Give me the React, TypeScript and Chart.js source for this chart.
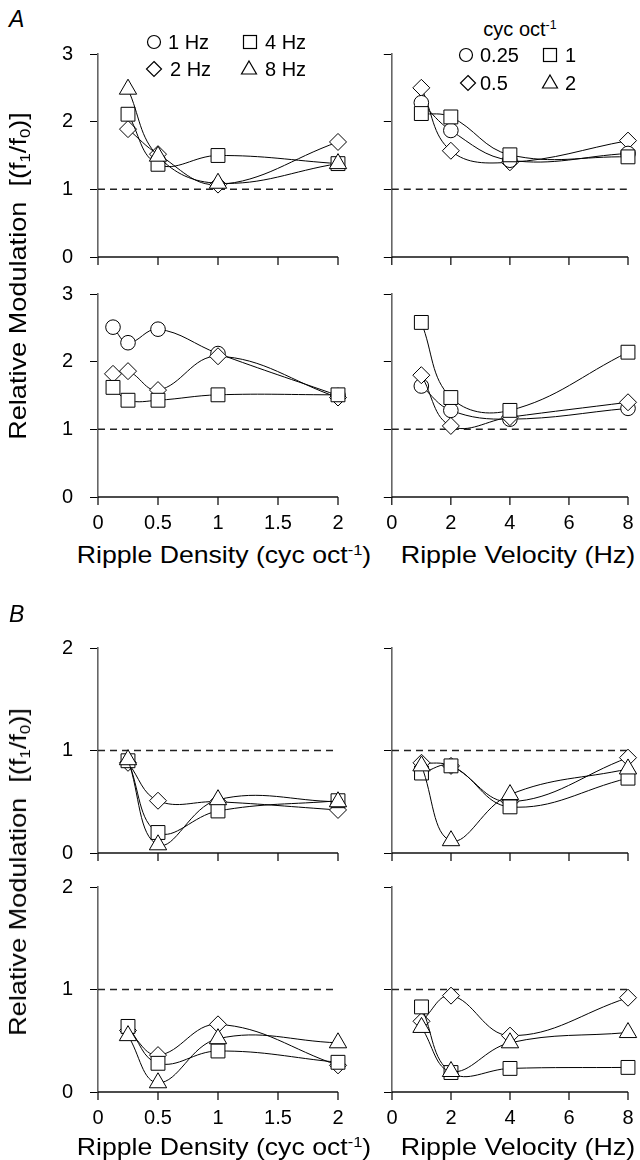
import React, { useEffect, useRef } from "react";
import { Chart, registerables } from "chart.js";

Chart.register(...registerables);

const FONT = "'Liberation Sans', Arial, Helvetica, sans-serif";
Chart.defaults.font.family = FONT;

// ---------- data ----------
const densityX = [0.25, 0.5, 1, 2];
const densityXFine = [0.125, 0.25, 0.5, 1, 2];
const velocityX = [1, 2, 4, 8];
const refLevel = 1;
const baseLevel = 0;

const densityTicks = [0, 0.5, 1, 1.5, 2];
const velocityTicks = [0, 2, 4, 6, 8];

// A, top-left (x = ripple density, series = velocity)
const aTL_2Hz = [1.89, 1.52, 1.07, 1.7];
const aTL_4Hz = [2.11, 1.37, 1.5, 1.38];
const aTL_8Hz = [2.48, 1.49, 1.09, 1.38];

// A, top-right (x = ripple velocity, series = density)
const aTR_025 = [2.28, 1.87, 1.43, 1.53];
const aTR_05 = [2.5, 1.57, 1.4, 1.72];
const aTR_1 = [2.12, 2.07, 1.51, 1.48];

// A, bottom-left
const aBL_1Hz = [2.51, 2.28, 2.48, 2.12, 1.5];
const aBL_2Hz = [1.82, 1.86, 1.58, 2.08, 1.47];
const aBL_4Hz = [1.62, 1.43, 1.43, 1.51, 1.51];

// A, bottom-right
const aBR_025 = [1.64, 1.28, 1.15, 1.31];
const aBR_05 = [1.8, 1.05, 1.18, 1.4];
const aBR_1 = [2.58, 1.47, 1.28, 2.14];

// B, top-left
const bTL_2Hz = [0.88, 0.51, 0.5, 0.42];
const bTL_4Hz = [0.9, 0.2, 0.41, 0.51];
const bTL_8Hz = [0.91, 0.08, 0.52, 0.5];

// B, top-right
const bTR_05 = [0.88, 0.85, 0.5, 0.93];
const bTR_1 = [0.78, 0.85, 0.45, 0.73];
const bTR_2 = [0.85, 0.12, 0.57, 0.82];

// B, bottom-left
const bBL_2Hz = [0.6, 0.36, 0.66, 0.26];
const bBL_4Hz = [0.64, 0.28, 0.4, 0.29];
const bBL_8Hz = [0.55, 0.09, 0.52, 0.48];

// B, bottom-right
const bBR_05 = [0.69, 0.94, 0.55, 0.92];
const bBR_1 = [0.83, 0.19, 0.23, 0.24];
const bBR_2 = [0.63, 0.2, 0.48, 0.58];

// ---------- styles ----------
const CIRCLE = { style: "circle", r: 7.3 };
const DIAMOND = { style: "rectRot", r: 8.5 };
const SQUARE = { style: "rect", r: 9.8 };
const TRIANGLE = { style: "triangle", r: 10 };

type Series = { x: number[]; y: number[]; style: string; r: number };

type PanelProps = {
  left: boolean;
  areaTop: number;
  areaBottom: number;
  showX: boolean;
  yMax: number;
  series: Series[];
};

const L_AREA_LEFT = 98;
const L_AREA_RIGHT = 338;
const R_AREA_LEFT = 389;
const R_AREA_RIGHT = 628;
const PAD_TOP = 12;
const PAD_RIGHT = 12;
const PAD_BOTTOM = 2;
const TICK_LEN = 8;

function Panel({ left, areaTop, areaBottom, showX, yMax, series }: PanelProps) {
  const ref = useRef<HTMLCanvasElement | null>(null);
  const yAxisW = left ? L_AREA_LEFT : TICK_LEN;
  const xAxisH = showX ? 40 : 10;
  const canvasLeft = left ? 0 : R_AREA_LEFT - TICK_LEN;
  const areaRight = left ? L_AREA_RIGHT : R_AREA_RIGHT;
  const width = areaRight + PAD_RIGHT - canvasLeft;
  const top = areaTop - PAD_TOP;
  const height = areaBottom - areaTop + PAD_TOP + xAxisH + PAD_BOTTOM;
  const xMax = left ? 2 : 8;
  const xTicks = left ? densityTicks : velocityTicks;

  useEffect(() => {
    const datasets: any[] = series.map((s) => ({
      data: s.x.map((x, i) => ({ x, y: s.y[i] })),
      borderColor: "#000",
      borderWidth: 1,
      backgroundColor: "#fff",
      pointStyle: s.style,
      pointRadius: s.r,
      pointBorderColor: "#000",
      pointBackgroundColor: "#fff",
      pointBorderWidth: 1,
      tension: 0.4,
      clip: false,
      fill: false,
    }));
    // dashed reference level
    datasets.push({
      data: [
        { x: 0, y: refLevel },
        { x: xMax, y: refLevel },
      ],
      borderColor: "#222",
      borderWidth: 1.5,
      borderDash: [7, 5],
      pointRadius: 0,
      tension: 0,
      clip: false,
      fill: false,
    });
    // horizontal axis line
    datasets.push({
      data: [
        { x: 0, y: baseLevel },
        { x: xMax, y: baseLevel },
      ],
      borderColor: "#111",
      borderWidth: 1.4,
      pointRadius: 0,
      tension: 0,
      clip: false,
      fill: false,
    });
    // downward tick marks on the horizontal axis
    datasets.push({
      data: xTicks.map((v) => ({ x: v, y: baseLevel })),
      showLine: false,
      pointStyle: "dash",
      rotation: 90,
      pointRadius: TICK_LEN,
      pointBorderColor: "#000",
      borderColor: "#000",
      pointBorderWidth: 1.2,
      clip: false,
    });

    const tickFont = { family: FONT, size: 20 };
    const chart = new Chart(ref.current as HTMLCanvasElement, {
      type: "line",
      data: { datasets },
      options: {
        animation: false,
        responsive: false,
        maintainAspectRatio: false,
        events: [],
        layout: { padding: { top: PAD_TOP, right: PAD_RIGHT, bottom: PAD_BOTTOM, left: 0 } },
        plugins: { legend: { display: false }, tooltip: { enabled: false }, title: { display: false } },
        scales: {
          x: {
            type: "linear",
            position: "bottom",
            min: 0,
            max: xMax,
            afterBuildTicks: (s: any) => {
              s.ticks = xTicks.map((v) => ({ value: v }));
            },
            ticks: {
              display: showX,
              font: tickFont,
              color: "#000",
              padding: 6,
              maxRotation: 0,
              autoSkip: false,
              callback: (v: any) => String(v),
            },
            grid: { display: false },
            border: { display: false },
            afterFit: (s: any) => {
              s.height = xAxisH;
              s.paddingLeft = 0;
              s.paddingRight = 0;
            },
          },
          y: {
            type: "linear",
            position: "left",
            min: 0,
            max: yMax,
            ticks: {
              stepSize: 1,
              font: tickFont,
              color: left ? "#000" : "rgba(0,0,0,0)",
              padding: 17,
              callback: (v: any) => (left ? String(v) : ""),
            },
            grid: { display: true, drawOnChartArea: false, drawTicks: true, tickLength: TICK_LEN, color: "#000", lineWidth: 1 },
            border: { display: true, color: "#666", width: 1.6 },
            afterFit: (s: any) => {
              s.width = yAxisW;
              s.paddingTop = 0;
              s.paddingBottom = 0;
            },
          },
        },
      } as any,
    });
    return () => chart.destroy();
  }, []);

  return (
    <canvas
      ref={ref}
      width={width}
      height={height}
      style={{ position: "absolute", left: canvasLeft, top, width, height }}
    />
  );
}

function Sym({ kind, x, y }: { kind: string; x: number; y: number }) {
  const s = 18;
  let shape: any = null;
  const common = { fill: "#fff", stroke: "#000", strokeWidth: 1.2 };
  if (kind === "circle") shape = <circle cx={9} cy={9} r={6.5} {...common} />;
  if (kind === "rect") shape = <rect x={2.5} y={2.5} width={13} height={13} {...common} />;
  if (kind === "rectRot") shape = <polygon points="9,1.5 16.5,9 9,16.5 1.5,9" {...common} />;
  if (kind === "triangle") shape = <polygon points="9,2 16.5,15 1.5,15" {...common} />;
  return (
    <svg width={s} height={s} style={{ position: "absolute", left: x - s / 2, top: y - s / 2 }}>
      {shape}
    </svg>
  );
}

function Txt({ x, y, children, size = 20, center = false, style = {}, sx = 1 }: any) {
  return (
    <div
      style={{
        position: "absolute",
        left: x,
        top: y,
        transform: (center ? "translate(-50%, -50%)" : "translate(0, -50%)") + ` scaleX(${sx})`,
        transformOrigin: center ? "50% 50%" : "0 50%",
        fontSize: size,
        fontFamily: FONT,
        whiteSpace: "nowrap",
        lineHeight: 1,
        color: "#000",
        ...style,
      }}
    >
      {children}
    </div>
  );
}

const supStyle = { fontSize: "0.62em", position: "relative" as const, top: "-0.55em" };
const subStyle = { fontSize: "0.62em", position: "relative" as const, top: "0.3em" };

function YTitle({ cy }: { cy: number }) {
  return (
    <div
      style={{
        position: "absolute",
        left: 18,
        top: cy,
        transform: "translate(-50%, -50%) rotate(-90deg) scaleX(1.13)",
        fontSize: 24,
        fontFamily: FONT,
        whiteSpace: "nowrap",
        lineHeight: 1,
      }}
    >
      Relative Modulation&nbsp;&nbsp;[(f<span style={subStyle}>1</span>/f<span style={subStyle}>0</span>)]
    </div>
  );
}

function XTitles({ y }: { y: number }) {
  return (
    <>
      <Txt x={224} y={y} size={24} center sx={1.11}>
        Ripple Density (cyc oct<span style={supStyle}>-1</span>)
      </Txt>
      <Txt x={518} y={y} size={24} center sx={1.12}>
        Ripple Velocity (Hz)
      </Txt>
    </>
  );
}

export default function App() {
  return (
    <div
      style={{
        position: "absolute",
        left: 0,
        top: 0,
        width: 640,
        height: 1160,
        background: "#fff",
        overflow: "hidden",
        fontFamily: FONT,
      }}
    >
      {/* Section A */}
      <Txt x={9} y={19} size={23} style={{ fontStyle: "italic" }}>
        A
      </Txt>
      <Panel
        left
        areaTop={54}
        areaBottom={257}
        showX={false}
        yMax={3}
        series={[
          { x: densityX, y: aTL_8Hz, ...TRIANGLE },
          { x: densityX, y: aTL_4Hz, ...SQUARE },
          { x: densityX, y: aTL_2Hz, ...DIAMOND },
        ]}
      />
      <Panel
        left={false}
        areaTop={54}
        areaBottom={257}
        showX={false}
        yMax={3}
        series={[
          { x: velocityX, y: aTR_1, ...SQUARE },
          { x: velocityX, y: aTR_025, ...CIRCLE },
          { x: velocityX, y: aTR_05, ...DIAMOND },
        ]}
      />
      <Panel
        left
        areaTop={294}
        areaBottom={497}
        showX
        yMax={3}
        series={[
          { x: densityXFine, y: aBL_4Hz, ...SQUARE },
          { x: densityXFine, y: aBL_2Hz, ...DIAMOND },
          { x: densityXFine, y: aBL_1Hz, ...CIRCLE },
        ]}
      />
      <Panel
        left={false}
        areaTop={294}
        areaBottom={497}
        showX
        yMax={3}
        series={[
          { x: velocityX, y: aBR_1, ...SQUARE },
          { x: velocityX, y: aBR_05, ...DIAMOND },
          { x: velocityX, y: aBR_025, ...CIRCLE },
        ]}
      />

      {/* legend A left */}
      <Sym kind="circle" x={154} y={42} />
      <Txt x={168} y={42}>1 Hz</Txt>
      <Sym kind="rect" x={250} y={42} />
      <Txt x={265} y={42}>4 Hz</Txt>
      <Sym kind="rectRot" x={154} y={69} />
      <Txt x={170} y={69}>2 Hz</Txt>
      <Sym kind="triangle" x={249} y={68} />
      <Txt x={265} y={69}>8 Hz</Txt>

      {/* legend A right */}
      <Txt x={520} y={29} center>
        cyc oct<span style={supStyle}>-1</span>
      </Txt>
      <Sym kind="circle" x={466} y={55} />
      <Txt x={480} y={55}>0.25</Txt>
      <Sym kind="rect" x={550} y={55} />
      <Txt x={565} y={55}>1</Txt>
      <Sym kind="rectRot" x={468} y={83} />
      <Txt x={480} y={83}>0.5</Txt>
      <Sym kind="triangle" x={550} y={82} />
      <Txt x={565} y={83}>2</Txt>

      <YTitle cy={276} />
      <XTitles y={555} />

      {/* Section B */}
      <Txt x={9} y={614} size={23} style={{ fontStyle: "italic" }}>
        B
      </Txt>
      <Panel
        left
        areaTop={648}
        areaBottom={853}
        showX={false}
        yMax={2}
        series={[
          { x: densityX, y: bTL_8Hz, ...TRIANGLE },
          { x: densityX, y: bTL_4Hz, ...SQUARE },
          { x: densityX, y: bTL_2Hz, ...DIAMOND },
        ]}
      />
      <Panel
        left={false}
        areaTop={648}
        areaBottom={853}
        showX={false}
        yMax={2}
        series={[
          { x: velocityX, y: bTR_2, ...TRIANGLE },
          { x: velocityX, y: bTR_1, ...SQUARE },
          { x: velocityX, y: bTR_05, ...DIAMOND },
        ]}
      />
      <Panel
        left
        areaTop={887}
        areaBottom={1092}
        showX
        yMax={2}
        series={[
          { x: densityX, y: bBL_8Hz, ...TRIANGLE },
          { x: densityX, y: bBL_4Hz, ...SQUARE },
          { x: densityX, y: bBL_2Hz, ...DIAMOND },
        ]}
      />
      <Panel
        left={false}
        areaTop={887}
        areaBottom={1092}
        showX
        yMax={2}
        series={[
          { x: velocityX, y: bBR_2, ...TRIANGLE },
          { x: velocityX, y: bBR_1, ...SQUARE },
          { x: velocityX, y: bBR_05, ...DIAMOND },
        ]}
      />

      <YTitle cy={872} />
      <XTitles y={1147} />
    </div>
  );
}
